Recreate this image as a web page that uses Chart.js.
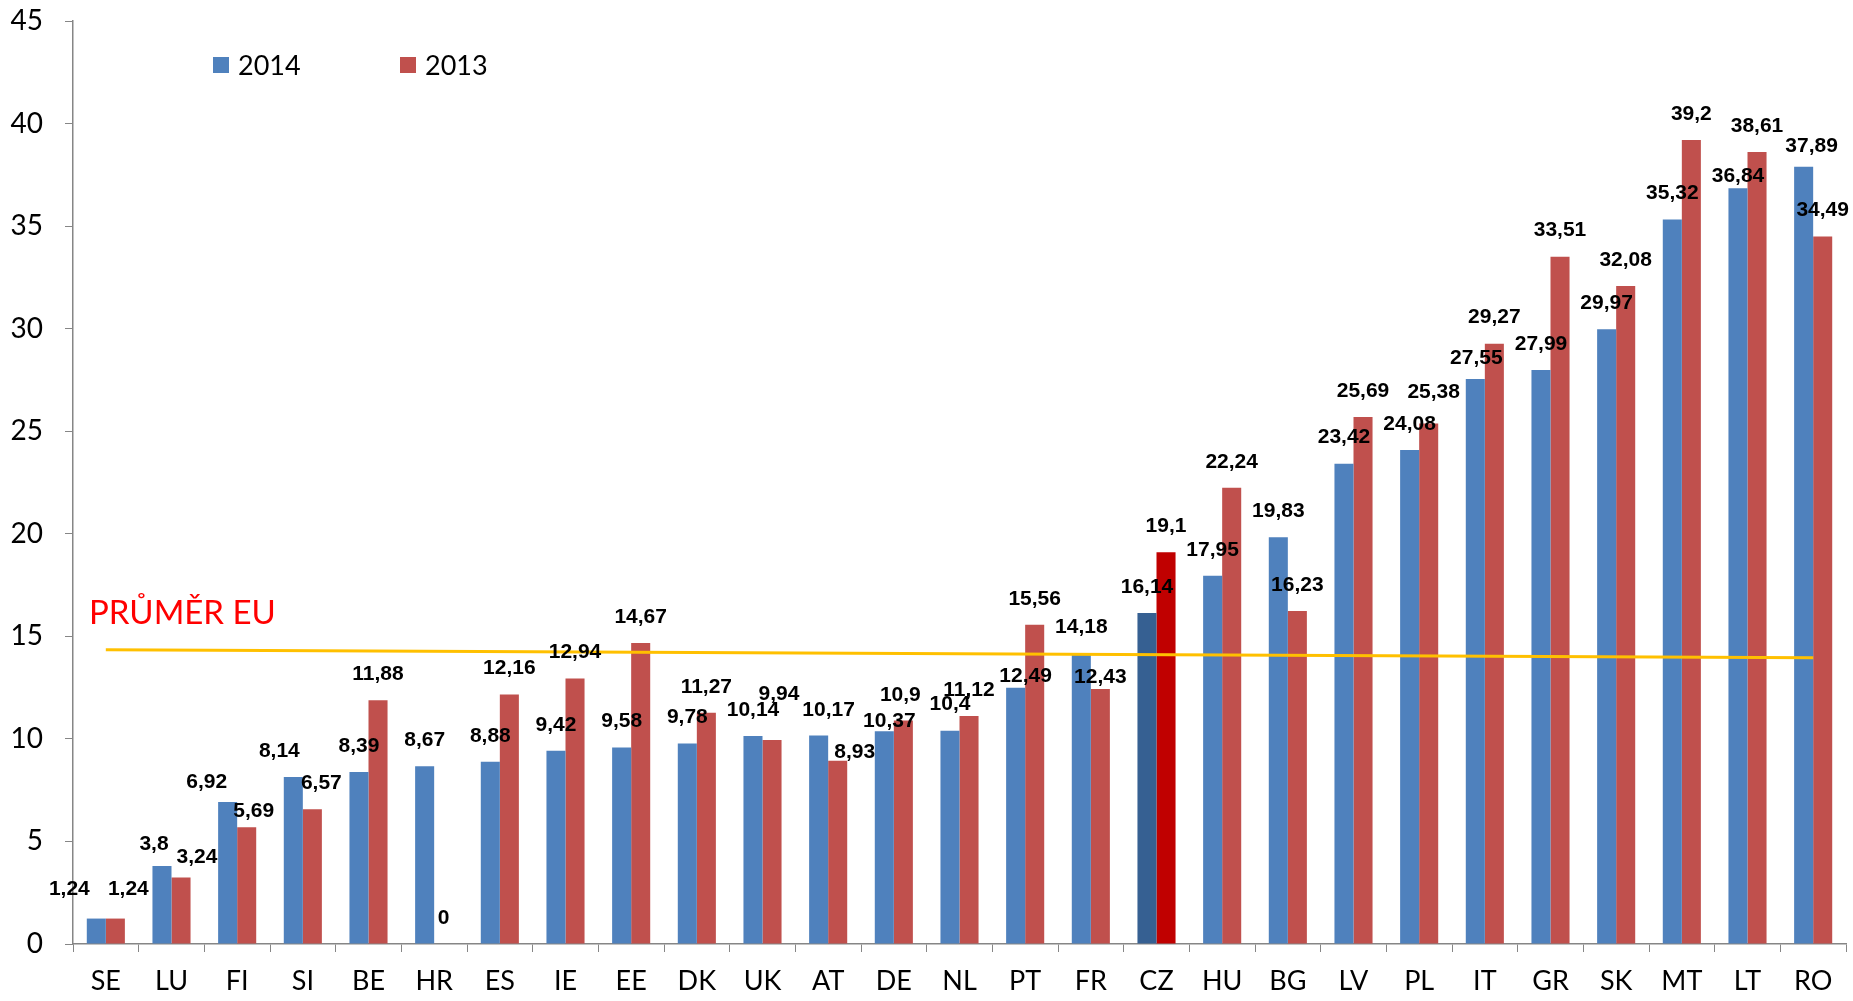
<!DOCTYPE html>
<html>
<head>
<meta charset="utf-8">
<script src="https://cdn.jsdelivr.net/npm/chart.js@4"></script>
<style>
  html, body { margin: 0; padding: 0; background: #fff; }
</style>
</head>
<body>
<canvas id="chart" width="1853" height="1001"></canvas>
<script>
const countries = ['SE', 'LU', 'FI', 'SI', 'BE', 'HR', 'ES', 'IE', 'EE', 'DK', 'UK', 'AT', 'DE', 'NL', 'PT', 'FR', 'CZ', 'HU', 'BG', 'LV', 'PL', 'IT', 'GR', 'SK', 'MT', 'LT', 'RO'];
const values2014 = [1.24, 3.8, 6.92, 8.14, 8.39, 8.67, 8.88, 9.42, 9.58, 9.78, 10.14, 10.17, 10.37, 10.4, 12.49, 14.18, 16.14, 17.95, 19.83, 23.42, 24.08, 27.55, 27.99, 29.97, 35.32, 36.84, 37.89];
const values2013 = [1.24, 3.24, 5.69, 6.57, 11.88, 0, 12.16, 12.94, 14.67, 11.27, 9.94, 8.93, 10.9, 11.12, 15.56, 12.43, 19.1, 22.24, 16.23, 25.69, 25.38, 29.27, 33.51, 32.08, 39.2, 38.61, 34.49];
// EU average line, only the two end points are known
const euAverage = [14.35, null, null, null, null, null, null, null, null, null, null, null, null, null, null, null, null, null, null, null, null, null, null, null, null, null, 13.95];
const euLabel = 'PRŮMĚR EU';
const yTicks = { min: 0, max: 45, step: 5 };

// value labels that were moved by hand in the original: [dx, gap above bar]
const nudge2014 = { SE: [-27, 29], LU: [-8, 22], FI: [-21, 20], SI: [-14, 26], AT: [10, 25], DE: [5, 10], PT: [10, 12], IT: [1, 21], LT: [0, 12], RO: [8, 21] };
const nudge2013 = { SE: [13, 29], LU: [16, 20], FI: [7, 16], SI: [9, 26], UK: [7, 46], AT: [17, 9], DE: [-3, 25], FR: [0, 12], PL: [5, 31] };

const BLUE = '#4F81BD';
const RED = '#C0504D';

const fmt = (v) => String(v).replace('.', ',');

// bold value labels above each bar
const valueLabels = {
  id: 'valueLabels',
  afterDatasetsDraw(chart) {
    const ctx = chart.ctx;
    ctx.save();
    ctx.font = 'bold 21px "Liberation Sans", Arial, sans-serif';
    ctx.fillStyle = '#000';
    ctx.textAlign = 'center';
    ctx.textBaseline = 'middle';
    chart.data.datasets.forEach((ds, i) => {
      if (ds.type === 'line') return;
      const nudge = ds.label === '2014' ? nudge2014 : nudge2013;
      chart.getDatasetMeta(i).data.forEach((bar, j) => {
        const [dx, gap] = nudge[countries[j]] || [0, 26];
        ctx.fillText(fmt(ds.data[j]), bar.x + dx, bar.y - gap);
      });
    });
    ctx.restore();
  },
};

// legend inside the plot + "PRŮMĚR EU" caption
const extras = {
  id: 'extras',
  afterDraw(chart) {
    const ctx = chart.ctx;
    const y = chart.scales.y;
    ctx.save();
    ctx.font = '27px Lato, sans-serif';
    ctx.textBaseline = 'middle';
    const items = [
      { x: 213, color: BLUE, text: '2014' },
      { x: 400, color: RED, text: '2013' },
    ];
    items.forEach((it) => {
      ctx.fillStyle = it.color;
      ctx.fillRect(it.x, 57, 16, 16);
      ctx.fillStyle = '#000';
      ctx.fillText(it.text, it.x + 25, 66);
    });
    ctx.font = '33px Lato, sans-serif';
    ctx.fillStyle = '#FF0000';
    ctx.textBaseline = 'alphabetic';
    ctx.fillText(euLabel, chart.chartArea.left + 16, y.getPixelForValue(15.6));
    ctx.restore();
  },
};

new Chart(document.getElementById('chart'), {
  type: 'bar',
  data: {
    labels: countries,
    datasets: [
      {
        type: 'line',
        label: euLabel,
        data: euAverage,
        borderColor: '#FFC000',
        borderWidth: 3,
        pointRadius: 0,
        spanGaps: true,
        order: 0,
      },
      {
        label: '2014',
        data: values2014,
        backgroundColor: (c) => (countries[c.dataIndex] === 'CZ' ? '#366092' : BLUE),
        order: 1,
      },
      {
        label: '2013',
        data: values2013,
        backgroundColor: (c) => (countries[c.dataIndex] === 'CZ' ? '#C00000' : RED),
        order: 1,
      },
    ],
  },
  options: {
    responsive: false,
    animation: false,
    datasets: {
      bar: {
        barPercentage: 1,
        categoryPercentage: 0.58,
      },
    },
    layout: {
      padding: { top: 0, right: 7, left: 0, bottom: 0 },
    },
    plugins: {
      legend: { display: false },
      tooltip: { enabled: false },
    },
    scales: {
      x: {
        grid: {
          offset: true,
          drawOnChartArea: false,
          tickLength: 8,
          color: '#868686',
        },
        border: { color: '#868686', width: 1.5 },
        ticks: {
          color: '#000',
          font: { family: 'Lato', size: 27 },
          padding: 13,
          maxRotation: 0,
          autoSkip: false,
        },
        afterFit: (scale) => {
          scale.height = 57;
        },
      },
      y: {
        min: yTicks.min,
        max: yTicks.max,
        grid: {
          drawOnChartArea: false,
          tickLength: 8,
          color: '#868686',
        },
        border: { color: '#868686', width: 1.5 },
        ticks: {
          stepSize: yTicks.step,
          color: '#000',
          font: { family: 'Lato', size: 28 },
          padding: 22,
        },
        afterFit: (scale) => {
          scale.width = 73;
          scale.paddingTop = 21;
          scale.paddingBottom = 0;
        },
      },
    },
  },
  plugins: [valueLabels, extras],
});
</script>
</body>
</html>
